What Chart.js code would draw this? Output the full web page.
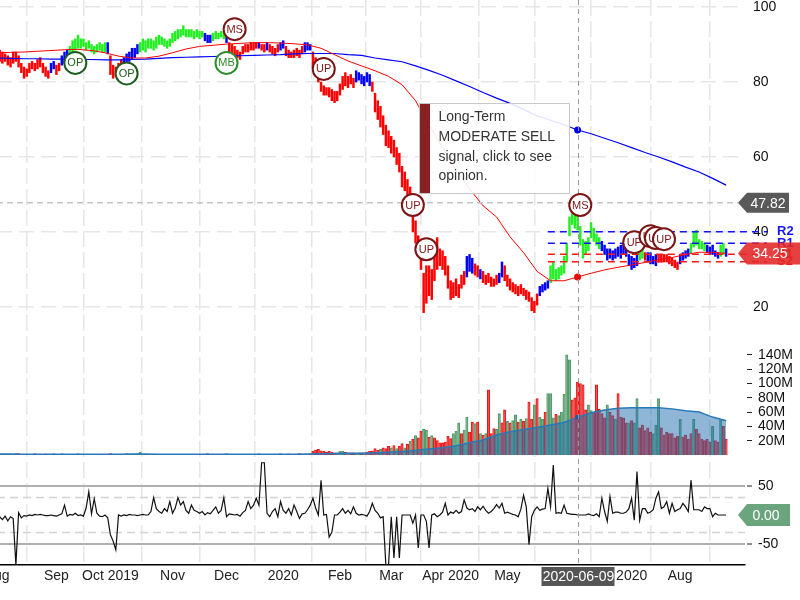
<!DOCTYPE html>
<html lang="en">
<head>
<meta charset="UTF-8">
<title>Price chart</title>
<script src="https://cdn.jsdelivr.net/npm/chart.js"></script>
<style>
  body { margin: 0; background: #fff; overflow: hidden; }
  #wrap { position: absolute; left: -3px; top: 0; width: 803px; height: 600px; }
</style>
</head>
<body>
<div id="wrap"><canvas id="chart" width="803" height="600"></canvas></div>
<script>
// daily bars, 2019-08-01 .. 2020-08-26
const lows = [
  86,85.5,85,85.5,84.5,84,85,85.5,84,82.5,
  81,81.5,82.5,83.5,83,83.5,84,82.5,81.5,81,
  82.5,83.5,82,83,84.5,85,86,87,88,88.5,
  89,89,89.5,88.5,89,88,87.5,88,88.5,88,
  88,87.5,82,81,81.5,81.5,83,84,84.5,85.5,
  86,86.5,87.5,88,88.5,88,89,89,88.5,89,
  90,90,89.5,89,89.5,90.5,91,91.5,92,92.5,
  92,92,92,91.5,92,91.5,92,91,90.5,90.5,
  91,91.5,91.5,92,91.5,90.5,88,87.5,87,86.5,
  86,87.5,88,88,88.5,88.5,89,89,88.5,88,
  88.5,88,87.5,87,88,88.5,89,87,86.5,86.5,
  86.5,87,86.5,87.5,88,88.5,88.5,84,83,80,
  77.5,76.5,76.5,76,75,74.5,75,76.5,78,79,
  78.5,79.5,78.5,80,80.5,79.5,79,80,79,77.5,
  72,70,68,66,63,62.5,61,60,58,56,
  52,51,48,47,40,37,34,30,18.5,21,
  23,22,27,30,31,30,28.5,25,22,22.5,
  23,22.5,25,26,28,29.5,29,28.5,28,27.5,
  26.5,26,26.5,25.5,25.5,26,26.5,28,27,25.5,
  24.5,24,23.5,23,23.5,23,22,21.5,19,18.5,
  20.5,23,24,24.5,25,26.5,27.5,27,27.5,28.5,
  29,32,39,42,41,40.5,36.5,33,34,35,
  38.5,37.5,36.5,35.5,35,34,32.5,33,32.5,33,
  33.5,33,34,33.5,31,30,30.5,31,32.5,33,
  32.5,32,31.5,31.5,31,32,32,32,32,31.5,
  31,30.5,30,31.5,32.5,33,33.5,34.5,36,36.5,
  35.5,35.5,35,34.5,34,34,33.5,33,33.5,34,
  33.5
];
const highs = [
  89,88.5,88,87.5,87,86.5,88,88,87,85,
  84,83.5,85,85.5,85,86,86.5,85,84,83,
  85,85.5,84.5,85,87,88,88.5,89.5,91,91.5,
  92.5,91.5,91.5,90.5,91,90,89.5,90,90.5,90,
  90.5,90.5,87,84.5,84,85,86,86.5,87.5,88,
  89,89,90,90.5,91.5,91,91.5,91.5,91,92,
  92.5,92,91.5,91,91.5,93,93.5,94,94,95,
  94,94,94,93.5,94,93.5,93.5,93,92.5,92.5,
  93,93.5,93,93.5,93.5,95,90.5,90,89.5,88.5,
  88,89.5,90,90,90.5,90.5,90.5,90.5,90,90,
  90.5,90,89.5,89,90,90.5,91,89.5,88.5,88,
  88.5,89,88.5,89.5,90.5,90.5,90,88,86.5,84,
  80,79,78.5,78.5,78,77.5,77.5,79.5,81.5,82.5,
  81.5,82,81,83,82.5,82,81.5,82.5,82,80,
  77,75,73.5,71,68.5,67,65.5,64.5,62.5,61,
  57.5,56,54,52,47,43,39,37,29,31,
  31,30,34,38.5,35.5,35,33.5,31,27,26.5,
  27.5,26,28.5,29.5,33.5,34,33,31.5,31,30,
  29.5,28.5,29,28,27.5,28.5,29,32,31,28.5,
  27.5,26.5,26,25.5,26,25,24.5,24,22.5,21.5,
  23.5,25.5,26,26.5,27,31,32,30,30.5,31,
  33.5,37,44,46.5,45,44.5,41.5,38,37.5,38.5,
  42.5,41,39.5,38.5,37.5,36.5,35.5,35.5,35,35.5,
  36,36.5,37,36,34,33.5,33,34,35.5,35.5,
  34.5,34.5,34.5,33.5,34,34,34,34,34,33.5,
  33,32.5,32,34,34.5,35,35.5,37,40,40.5,
  38,37.5,37,36.5,36,36.5,35,34.5,36.5,37,
  35.5
];
// trend state of each bar: r = sell, g = buy, b = neutral (run lengths)
const trendRuns = [
  ['b',1],['r',19],['b',2],['r',2],['b',3],['g',14],['b',1],['r',5],['b',6],['g',24],
  ['b',3],['g',5],['b',1],['r',11],['b',1],['r',2],['b',1],['r',4],['b',2],['r',7],
  ['b',3],['r',16],['b',6],['r',35],['b',3],['r',2],['b',1],['r',6],['b',2],['r',13],
  ['b',4],['g',19],['b',14],['g',2],['r',1],['b',4],['r',8],['b',4],['g',6],['b',5],
  ['g',2],['b',1]
];
// volume in millions
const volumes = [
  2,1,1.5,1,1,1,1,2,2,1,
  1,1,1,1,2,1,1,1,1.5,1,
  1,2,1,1,2,1,1,1,1,1,
  2,1,1,1,1,1,1,1,1,1,
  1,1,2,1,1,1,1,1,2,1,
  1,1,2,4,1,1,1,1,1,1,
  1,1,1,1,1,1,1,1,1,1,
  1,1,1,1,1,1,1,1,2,1,
  1,1,1,1,1,2,1,1,1,1,
  1,1,1,1,1,1,1,2,1,1,
  1,1,1,1,1,2,1,1,1.5,1,
  1,1,2,1,1,1,1,5,7,8,
  6,5,4,5,4,3,3,5,5,4,
  3,3,3,2,3,3,3,4,5,6,
  9,7,8,10,9,12,10,13,9,12,
  16,10,15,19,22,27,24,33,36,35,
  25,27,24,20,17,17,18,26,23,30,
  33,45,30,35,53,32,46,44,46,30,
  28,30,91,30,37,36,58,45,63,47,
  45,48,56,46,50,47,51,74,50,70,
  79,53,50,60,86,86,52,57,55,60,
  85,140,133,77,80,102,100,98,63,70,
  62,60,98,64,58,52,70,60,55,50,
  86,53,52,45,45,48,45,79,38,42,
  34,38,32,30,42,79,38,28,32,30,
  30,24,26,50,25,28,22,30,50,36,
  30,22,20,22,18,40,20,18,50,40,
  22
];
const volDir = (
  'ddudduuddd duuuduuddd uuduuuuuuu udududduud uddduuuuuu uuuuuduudu uddduuuuuu ' +
  'dddduddddu uuuududddd duududuudd uddduuuddd uuduuudddd dddddduuud udduudu ' +
  'dddddudddu duddududud duududdddd dduuuduudd udududdduu dduduududu dduduuduuu ' +
  'duuuuudddd dduudddddu dduddddudu uddddduuud dddddduddd duddddddud dudd'
).replace(/ /g, '');
const osc = [
  0,-3,-8,-2,-10,-3,-6,-86,4,-5,
  -1,-2,0,-1,1,0,1,0,-1,-1,
  0,-1,-2,0,2,17,-2,1,0,3,
  -1,0,-2,12,40,2,28,3,-2,-3,
  0,-5,-34,-45,-60,0,-2,0,-1,1,
  0,0,-1,0,1,0,0,6,30,11,
  6,3,11,6,23,3,12,30,17,23,
  8,3,17,8,6,3,6,0,4,2,
  8,14,3,8,30,-3,2,1,0,1,
  -2,4,8,23,11,17,29,17,90,90,
  3,-3,6,11,-3,23,8,3,11,0,
  17,6,-6,2,3,9,17,29,12,0,
  60,0,1,-38,-30,0,0,5,11,3,
  8,2,14,3,0,1,0,-2,6,20,
  8,3,-5,-3,-86,-86,-3,-74,-3,-74,
  0,0,0,0,-14,0,-57,0,0,-11,
  -57,0,2,-3,0,5,20,0,5,3,
  8,3,6,26,12,9,11,6,14,9,
  15,8,3,6,11,18,12,20,3,5,
  3,1,0,-3,10,34,14,-51,-3,8,
  14,8,10,11,46,14,86,3,4,3,
  17,3,2,1,1,0,0,0,0,2,
  0,-1,2,-3,29,6,-11,32,3,5,
  5,3,3,5,11,29,-9,75,-9,11,
  11,3,5,9,29,40,11,14,23,3,
  20,6,9,11,20,14,6,60,9,9,
  9,6,14,11,11,-3,3,0,0,0,
  0
];
// moving averages sampled every 5th bar
const maStep = 5;
const ma50 = [
  87.8,87.9,88.0,88.2,88.4,88.6,88.7,88.4,87.8,86.9,
  86.4,86.4,86.9,87.8,88.8,89.5,89.8,90.1,90.3,90.5,
  90.5,90.4,90.2,89.9,89.0,87.3,85.6,84.3,83.0,81.5,
  79.3,75.0,68.5,62.5,56.5,51.5,47.0,44.0,38.7,34.5,
  29.5,27.0,27.0,28.0,29.0,29.9,30.6,31.2,31.9,32.6,
  33.2,34.0,34.6,34.6,34.3
];
const ma200 = [
  86.4,86.3,86.2,86.2,86.1,86.1,86.0,86.0,85.9,85.9,
  86.0,86.1,86.3,86.5,86.6,86.7,86.8,86.9,87.0,87.1,
  87.2,87.3,87.5,87.6,87.6,87.6,87.3,87.1,86.4,85.9,
  85.4,84.3,83.1,81.8,80.3,78.8,77.2,75.7,74.3,72.7,
  71.0,69.8,68.6,67.2,66.2,65.0,63.8,62.5,61.2,60.0,
  58.7,57.3,56.0,54.3,52.5
];
const volMa = [
  1.3,1.3,1.2,1.2,1.2,1.2,1.2,1.2,1.2,1.2,
  1.3,1.3,1.2,1.2,1.1,1.1,1.1,1.1,1.1,1.1,
  1.1,1.1,1.2,1.3,1.6,2.0,2.3,2.6,3.0,3.8,
  5.0,6.5,8.5,10.0,13.0,17.0,21.0,28.0,32.5,35.5,
  38.5,42.0,45.5,53.0,59.0,63.0,65.5,66.0,66.0,66.0,
  64.5,62.0,60.0,53.0,48.0
];

const holidays = ['2019-09-02','2019-11-28','2019-12-25','2020-01-01','2020-01-20','2020-02-17','2020-04-10','2020-05-25','2020-07-03'];
const monthLabels = ['Aug','Sep','Oct 2019','Nov','Dec','2020','Feb','Mar','Apr 2020','May','Jun','Jul 2020','Aug'];
const priceTicks = [20, 40, 60, 80, 100];
const volTicks = [20, 40, 60, 80, 100, 120, 140];
const oscTicks = [-50, 50];
const oscBands = [-30, 30];

const crossDate = '2020-06-09';
const crossPrice = 47.82;
const lastPrice = 34.25;
const lastOsc = 0;
const levelNames = ['R2', 'R1', 'S1', 'S2'];
const levelValues = [40.1, 37.0, 34.1, 32.1];
const levelFrom = 204;

const sigIdx   = [29, 48, 88, 85, 121, 154, 159, 216, 236, 242, 244, 247];
const sigPrice = [85.1, 82.3, 94.1, 85.1, 83.5, 47.2, 35.4, 47.2, 37.3, 38.9, 38.4, 38.1];
const sigText  = ['OP','OP','MS','MB','UP','UP','UP','MS','UP','UP','UP','UP'];
const noteLines = ['Long-Term', 'MODERATE SELL', 'signal, click to see', 'opinion.'];

// trading days
const days = [];
for (let d = new Date(Date.UTC(2019, 7, 1)); days.length < lows.length; d.setUTCDate(d.getUTCDate() + 1)) {
  const wd = d.getUTCDay();
  const s = d.toISOString().slice(0, 10);
  if (wd === 0 || wd === 6 || holidays.includes(s)) continue;
  days.push(s);
}
const monthStarts = [];
days.forEach((s, i) => { if (i === 0 || s.slice(0, 7) !== days[i - 1].slice(0, 7)) monthStarts.push(i); });
const crossIdx = days.indexOf(crossDate);

const trend = [];
trendRuns.forEach(([c, n]) => { for (let k = 0; k < n; k++) trend.push(c); });
const trendColor = { r: '#ff0000', g: '#22ee22', b: '#0000ff' };
const sigColor = { OP: '#1d5c1d', MB: '#2e8b2e', MS: '#7b1414', UP: '#7b1414' };
const FONT = '"Liberation Sans", Arial, sans-serif';

const maPoints = arr => arr.map((v, k) => ({ x: k * maStep, y: v }));
const dotAtCross = r => c => (c.raw && c.raw.x === crossIdx ? r : 0);
const fitRight = s => { s.width = 55; s.paddingTop = 0; s.paddingBottom = 0; };

const overlay = {
  id: 'overlay',
  beforeDatasetsDraw(chart) {
    const { ctx, chartArea: a, scales } = chart;
    ctx.save();
    ctx.strokeStyle = '#d2d2d2';
    ctx.lineWidth = 1.5;
    ctx.setLineDash([8, 5]);
    oscBands.forEach(v => {
      const py = scales.osc.getPixelForValue(v);
      ctx.beginPath(); ctx.moveTo(a.left, py); ctx.lineTo(a.right, py); ctx.stroke();
    });
    ctx.restore();
  },
  afterDatasetsDraw(chart) {
    const { ctx, chartArea: a, scales } = chart;
    const xs = scales.x, ys = scales.y, os = scales.osc;
    const cx = Math.round(xs.getPixelForValue(crossIdx)) + 0.5;
    ctx.save();

    // crosshair
    ctx.setLineDash([5, 4]);
    ctx.strokeStyle = '#9a9a9a';
    ctx.lineWidth = 1;
    ctx.beginPath(); ctx.moveTo(cx, a.top); ctx.lineTo(cx, a.bottom); ctx.stroke();
    const hy = ys.getPixelForValue(crossPrice);
    ctx.strokeStyle = '#c4c4c4';
    ctx.lineWidth = 1.5;
    ctx.setLineDash([6, 4]);
    ctx.beginPath(); ctx.moveTo(a.left, hy); ctx.lineTo(a.right - 7, hy); ctx.stroke();

    // support / resistance
    const lx = xs.getPixelForValue(levelFrom);
    ctx.setLineDash([7, 5]);
    ctx.font = 'bold 13px ' + FONT;
    ctx.textBaseline = 'middle';
    ctx.textAlign = 'left';
    levelNames.forEach((nm, k) => {
      const py = ys.getPixelForValue(levelValues[k]);
      const col = nm[0] === 'R' ? '#1414ff' : '#ff1a1a';
      ctx.strokeStyle = col; ctx.fillStyle = col;
      ctx.beginPath(); ctx.moveTo(lx, py); ctx.lineTo(a.right + 22, py); ctx.stroke();
      ctx.fillText(nm, a.right + 32, py);
    });
    ctx.setLineDash([]);

    // value tags on the right axis
    const tag = (py, txt, col, w, h, tx) => {
      ctx.fillStyle = col;
      ctx.beginPath();
      ctx.moveTo(a.right - 7, py);
      ctx.lineTo(a.right + 2, py - h);
      ctx.lineTo(a.right + 2 + w, py - h);
      ctx.lineTo(a.right + 2 + w, py + h);
      ctx.lineTo(a.right + 2, py + h);
      ctx.closePath();
      ctx.fill();
      ctx.fillStyle = '#fff';
      ctx.font = '14px ' + FONT;
      ctx.textAlign = 'center';
      ctx.fillText(txt, a.right + tx, py + 1);
    };
    tag(hy, crossPrice.toFixed(2), '#595959', 42, 10, 23);
    tag(ys.getPixelForValue(lastPrice), lastPrice.toFixed(2), 'rgba(226,38,38,0.88)', 60, 11, 25);
    tag(os.getPixelForValue(lastOsc), lastOsc.toFixed(2), '#6ba57e', 43, 11, 21);

    // signal bubbles
    ctx.font = '11px ' + FONT;
    sigIdx.forEach((ix, k) => {
      const px = xs.getPixelForValue(ix), py = ys.getPixelForValue(sigPrice[k]);
      const col = sigColor[sigText[k]];
      ctx.beginPath(); ctx.arc(px, py, 11, 0, Math.PI * 2);
      ctx.fillStyle = '#fff'; ctx.fill();
      ctx.lineWidth = 2; ctx.strokeStyle = col; ctx.stroke();
      ctx.fillStyle = col; ctx.textAlign = 'center';
      ctx.fillText(sigText[k], px, py + 0.5);
    });

    // opinion note
    const bx = Math.round(cx - 160) + 0.5, by = a.top + 103.5, bw = 150, bh = 90;
    ctx.fillStyle = 'rgba(255,255,255,0.88)';
    ctx.fillRect(bx, by, bw, bh);
    ctx.strokeStyle = '#c8c8c8'; ctx.lineWidth = 1;
    ctx.strokeRect(bx, by, bw, bh);
    ctx.fillStyle = 'rgba(130,22,22,0.95)';
    ctx.fillRect(bx + 0.5, by + 0.5, 10, bh - 1);
    ctx.fillStyle = '#333';
    ctx.font = '14px ' + FONT;
    ctx.textAlign = 'left';
    noteLines.forEach((t, k) => ctx.fillText(t, bx + 19, by + 14 + k * 19.7));

    // date label under the crosshair
    ctx.fillStyle = '#555';
    ctx.fillRect(cx - 37, a.bottom + 2, 73, 19);
    ctx.fillStyle = '#fff';
    ctx.textAlign = 'center';
    ctx.fillText(crossDate, cx, a.bottom + 12);
    ctx.restore();
  }
};

Chart.defaults.font.family = FONT;
Chart.defaults.color = '#222';

new Chart(document.getElementById('chart'), {
  data: {
    datasets: [
      {
        type: 'line', label: 'Oscillator', yAxisID: 'osc', order: 1,
        data: osc.map((v, i) => ({ x: i, y: v })),
        borderColor: '#111', borderWidth: 1.2, pointRadius: 0, tension: 0
      },
      {
        type: 'line', label: 'Volume MA', yAxisID: 'vol', order: 2,
        data: maPoints(volMa),
        borderColor: '#2a78b8', borderWidth: 1.5,
        backgroundColor: 'rgba(31,110,175,0.5)', fill: 'origin',
        pointRadius: dotAtCross(3), pointStyle: 'rect',
        pointBackgroundColor: '#1a5a9a', pointBorderWidth: 0
      },
      {
        type: 'line', label: 'MA 50', yAxisID: 'y', order: 3,
        data: maPoints(ma50),
        borderColor: '#ff0000', borderWidth: 1, pointRadius: dotAtCross(3.5),
        pointBackgroundColor: '#ee0000', pointBorderWidth: 0
      },
      {
        type: 'line', label: 'MA 200', yAxisID: 'y', order: 3,
        data: maPoints(ma200),
        borderColor: '#0000ff', borderWidth: 1.2, pointRadius: dotAtCross(3.5),
        pointBackgroundColor: '#0000ee', pointBorderWidth: 0
      },
      {
        type: 'bar', label: 'Price', yAxisID: 'y', order: 5, grouped: false,
        data: lows.map((lo, i) => ({ x: i, y: [lo, highs[i]] })),
        backgroundColor: c => trendColor[trend[c.dataIndex]],
        barThickness: 1.8, borderWidth: 0
      },
      {
        type: 'bar', label: 'Volume', yAxisID: 'vol', order: 6, grouped: false,
        data: volumes.map((v, i) => ({ x: i, y: v })),
        backgroundColor: c => volDir[c.dataIndex] === 'u' ? 'rgba(120,175,135,0.8)' : 'rgba(255,70,70,0.8)',
        borderColor: c => volDir[c.dataIndex] === 'u' ? '#4f9a68' : '#e51b1b',
        borderWidth: 1, barThickness: 2.4
      }
    ]
  },
  options: {
    responsive: false,
    animation: false,
    events: [],
    layout: { padding: 0 },
    plugins: { legend: { display: false }, tooltip: { enabled: false } },
    scales: {
      x: {
        type: 'linear', position: 'bottom', min: 0, max: 277, offset: false,
        grid: { color: '#e6e6e6', lineWidth: 1.5, drawTicks: false },
        border: { display: true, color: '#000', width: 1.5, dash: [16, 5] },
        ticks: {
          autoSkip: false, maxRotation: 0, padding: 3, color: '#222', font: { size: 14 },
          callback: v => { const k = monthStarts.indexOf(v); return k < 0 ? '' : monthLabels[k]; }
        },
        afterBuildTicks: s => { s.ticks = monthStarts.map(v => ({ value: v })); },
        afterFit: s => { s.height = 35; s.paddingLeft = 0; s.paddingRight = 0; }
      },
      y: {
        type: 'linear', position: 'right', stack: 'panes', stackWeight: 340,
        min: 11.2, max: 101.87,
        grid: { color: '#e6e6e6', lineWidth: 1.5, drawTicks: false },
        border: { display: false, dash: [15, 7] },
        ticks: { autoSkip: false, padding: 8, color: '#111', font: { size: 14 } },
        afterBuildTicks: s => { s.ticks = priceTicks.map(v => ({ value: v })); },
        afterFit: fitRight
      },
      vol: {
        type: 'linear', position: 'right', stack: 'panes', stackWeight: 115,
        min: 0, max: 160.8,
        grid: { drawOnChartArea: false, drawTicks: true, tickLength: 7, tickColor: '#222', tickWidth: 1, tickBorderDash: [0, 2, 5, 50] },
        border: { display: false },
        ticks: { autoSkip: false, padding: 6, color: '#111', font: { size: 14 }, callback: v => v + 'M' },
        afterBuildTicks: s => { s.ticks = volTicks.map(v => ({ value: v })); },
        afterFit: fitRight
      },
      osc: {
        type: 'linear', position: 'right', stack: 'panes', stackWeight: 110,
        min: -86.2, max: 103.4,
        grid: { color: '#b0b0b0', lineWidth: 2, drawTicks: true, tickLength: 7, tickColor: '#222', tickWidth: 1, tickBorderDash: [0, 2, 5, 50] },
        border: { display: false },
        ticks: { autoSkip: false, padding: 6, color: '#111', font: { size: 14 } },
        afterBuildTicks: s => { s.ticks = oscTicks.map(v => ({ value: v })); },
        afterFit: fitRight
      }
    }
  },
  plugins: [overlay]
});
</script>
</body>
</html>
